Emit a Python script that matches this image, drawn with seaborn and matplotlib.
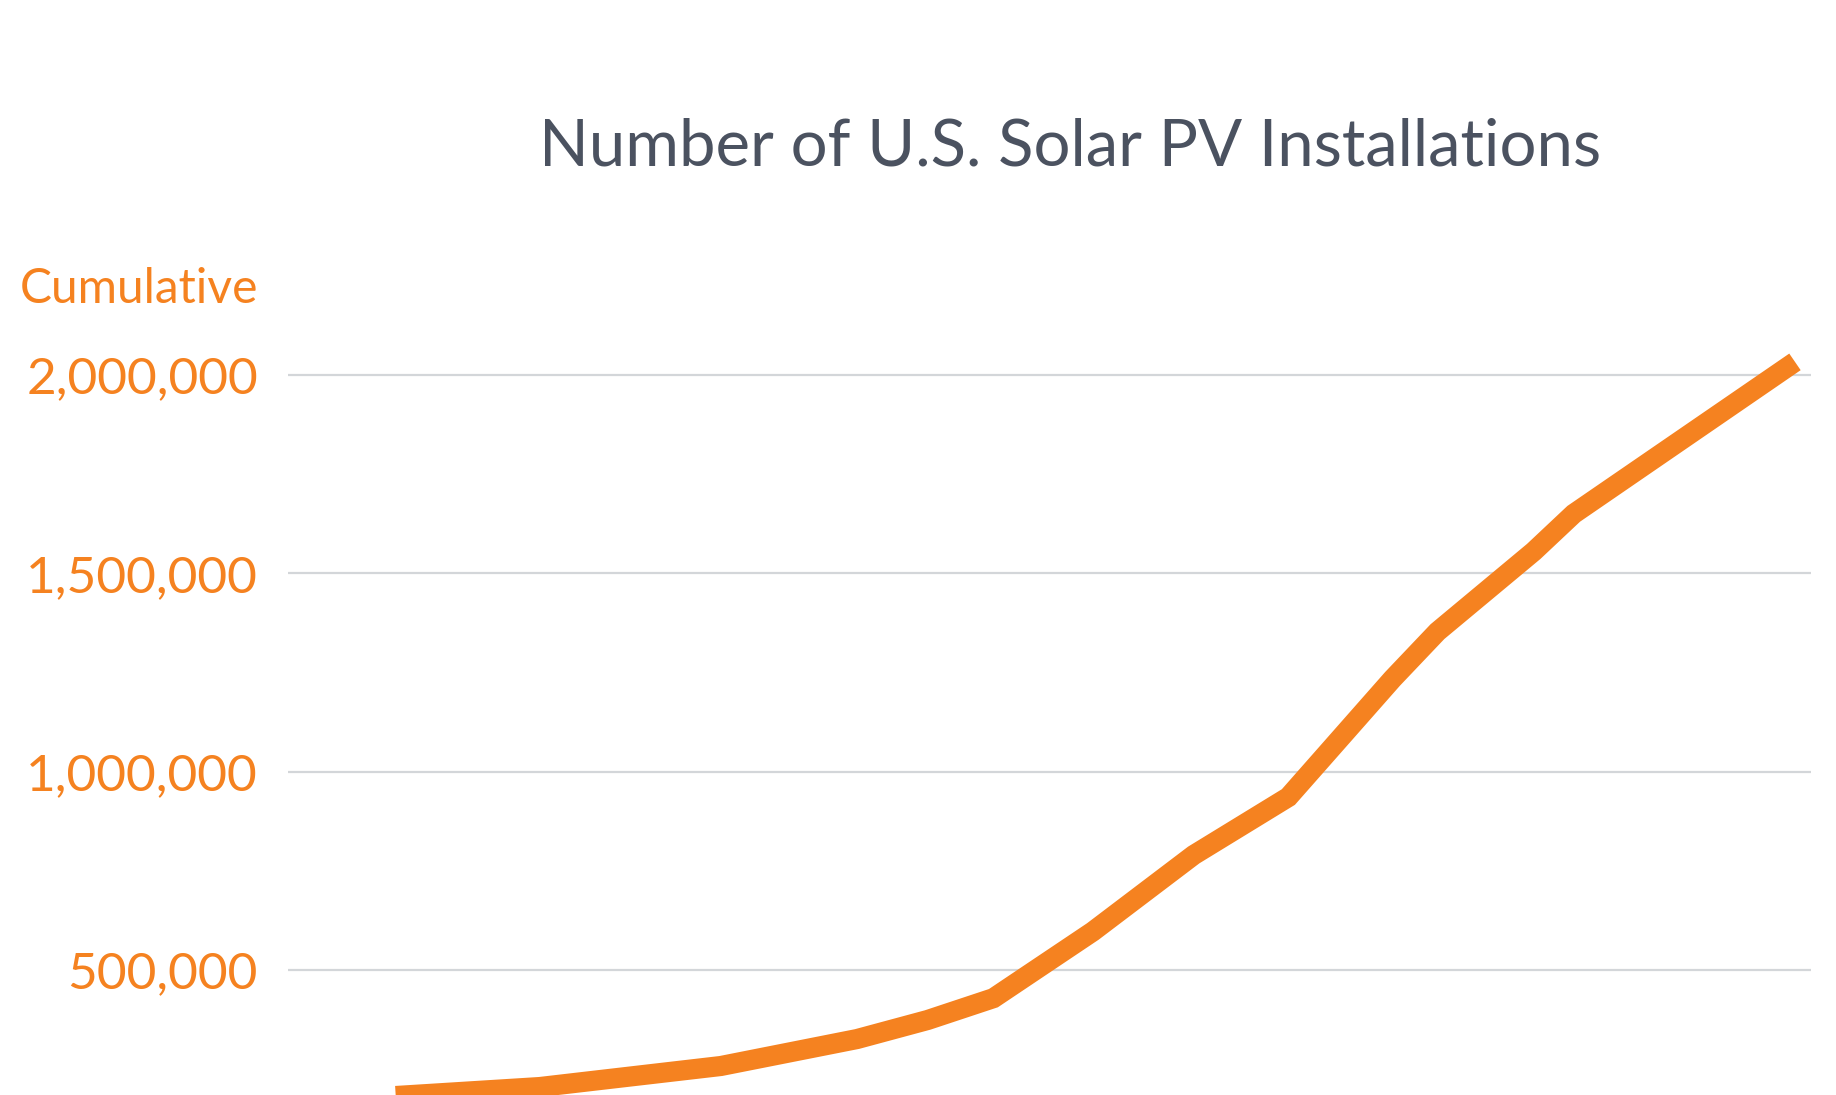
import matplotlib
matplotlib.use('Agg')
import matplotlib.pyplot as plt
import seaborn as sns
import pandas as pd
from matplotlib.ticker import FuncFormatter

# ------------------------------------------------------------
# Data
# ------------------------------------------------------------
years = [2010.26, 2011.57, 2012.70, 2013.55, 2013.99, 2014.40, 2015.02,
         2015.65, 2016.24, 2016.89, 2017.17, 2017.77, 2018.02, 2019.40]
installs = [172000, 205000, 258000, 326000, 374000, 429000, 597000,
            790000, 936000, 1234000, 1353000, 1555000, 1650000, 2033000]
ytick_vals = [500000, 1000000, 1500000, 2000000]

df = pd.DataFrame({'Year': years, 'Installations': installs})

ORANGE = '#F58220'
GRID = '#D3D6D9'
TITLE_COLOR = '#4B5260'

sns.set_style('white')
plt.rcParams['font.family'] = ['Lato', 'DejaVu Sans']

W, H = 1836, 1095
fig = plt.figure(figsize=(W / 100, H / 100), dpi=100)
ax = fig.add_axes([288 / W, 0, (1811 - 288) / W, 0.6938])

sns.lineplot(data=df, x='Year', y='Installations', ax=ax, color=ORANGE,
             linewidth=14.5, solid_capstyle='butt', solid_joinstyle='miter')

ax.set_xlim(2010, 2019.5)
ax.set_ylim(184900, 2100000)
ax.set_yticks(ytick_vals)
ax.yaxis.set_major_formatter(FuncFormatter(lambda v, p: f'{int(v):,}'))
ax.tick_params(axis='y', length=0, pad=21.6, labelsize=37, labelcolor=ORANGE)
ax.set_xticks([])
ax.set_xlabel('')
ax.set_ylabel('')
ax.grid(axis='y', color=GRID, linewidth=1.6)
for s in ax.spines.values():
    s.set_visible(False)

fig.text(258 / W, 1 - 302.7 / H, 'Cumulative', ha='right', va='baseline',
         fontsize=34.5, color=ORANGE)
fig.text(1070 / W, 1 - 166 / H, 'Number of U.S. Solar PV Installations',
         ha='center', va='baseline', fontsize=47, color=TITLE_COLOR)

fig.savefig('out.png', dpi=100)
